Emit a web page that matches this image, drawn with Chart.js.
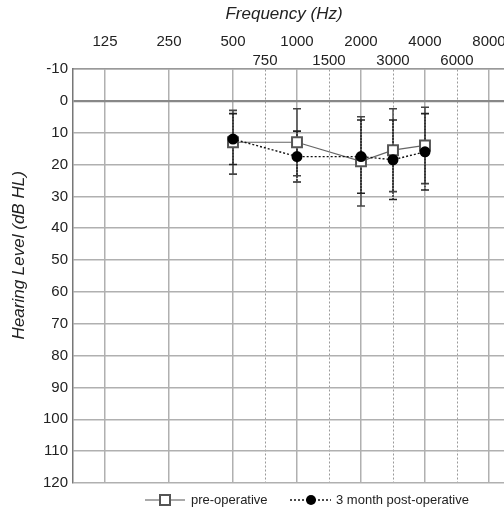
<!DOCTYPE html>
<html lang="en">
<head>
  <meta charset="UTF-8" />
  <title>Audiogram</title>
  <script src="https://cdn.jsdelivr.net/npm/chart.js"></script>
  <style>
    html, body { margin: 0; padding: 0; background: #fff; overflow: hidden; }
    #wrap { width: 504px; height: 509px; overflow: hidden; }
  </style>
</head>
<body>
  <div id="wrap">
    <canvas id="audiogram" width="530" height="509"></canvas>
  </div>

  <script>
    // Frequency ticks (Hz) and hearing level ticks (dB HL)
    const tickFreqs = [125, 250, 500, 750, 1000, 1500, 2000, 3000, 4000, 6000, 8000];
    const levelTicks = [-10, 0, 10, 20, 30, 40, 50, 60, 70, 80, 90, 100, 110, 120];

    // Mean thresholds with standard deviations
    const testFreqs = [500, 1000, 2000, 3000, 4000];
    const preOp = [13, 13, 19, 15.5, 14];
    const preOpSd = [10, 10.5, 14, 13, 12];
    const postOp = [12, 17.5, 17.5, 18.5, 16];
    const postOpSd = [8, 8, 11.5, 12.5, 12];

    const seriesNames = ['pre-operative', '3 month post-operative'];

    const FONT = '"Liberation Sans", Arial, Helvetica, sans-serif';

    // audiogram spacing: octaves are equal steps, inter-octave frequencies sit halfway
    function freqPos(f) {
      const oct = Math.log2(f / 125);
      return Number.isInteger(oct) ? oct : Math.floor(oct) + 0.5;
    }
    function isHalf(f) { return !Number.isInteger(Math.log2(f / 125)); }

    const toPoints = vals => testFreqs.map((f, i) => ({ x: freqPos(f), y: vals[i] }));

    // error bars, drawn underneath the markers
    const errorBars = {
      id: 'errorBars',
      beforeDatasetsDraw(chart) {
        const { ctx, scales: { x, y } } = chart;
        const sets = [
          { vals: preOp, sd: preOpSd, color: '#444', dash: [] },
          { vals: postOp, sd: postOpSd, color: '#222', dash: [2, 1] }
        ];
        ctx.save();
        sets.forEach(s => {
          testFreqs.forEach((f, i) => {
            const px = x.getPixelForValue(freqPos(f));
            const top = y.getPixelForValue(s.vals[i] - s.sd[i]);
            const bot = y.getPixelForValue(s.vals[i] + s.sd[i]);
            ctx.strokeStyle = s.color;
            ctx.lineWidth = 1.4;
            ctx.setLineDash(s.dash);
            ctx.beginPath();
            ctx.moveTo(px, top);
            ctx.lineTo(px, bot);
            ctx.stroke();
            ctx.setLineDash([]);
            ctx.lineWidth = 1.6;
            ctx.beginPath();
            ctx.moveTo(px - 4, top); ctx.lineTo(px + 4, top);
            ctx.moveTo(px - 4, bot); ctx.lineTo(px + 4, bot);
            ctx.stroke();
          });
        });
        ctx.restore();
      }
    };

    // axis titles and the bottom legend
    const decorations = {
      id: 'decorations',
      afterDraw(chart) {
        const { ctx, chartArea } = chart;
        ctx.save();
        ctx.fillStyle = '#222';
        ctx.font = 'italic 17px ' + FONT;
        ctx.textAlign = 'center';
        ctx.textBaseline = 'middle';
        ctx.fillText('Frequency (Hz)', 284, 14);

        ctx.translate(19, chartArea.top + 0.45 * (chartArea.bottom - chartArea.top));
        ctx.rotate(-Math.PI / 2);
        ctx.fillText('Hearing Level (dB HL)', 0, 0);
        ctx.restore();

        // legend
        const ly = 500;
        ctx.save();
        ctx.font = '13px ' + FONT;
        ctx.textBaseline = 'middle';
        ctx.fillStyle = '#222';

        ctx.strokeStyle = '#555';
        ctx.lineWidth = 1.2;
        ctx.beginPath(); ctx.moveTo(145, ly); ctx.lineTo(185, ly); ctx.stroke();
        ctx.fillStyle = '#fff';
        ctx.lineWidth = 2;
        ctx.fillRect(160, ly - 5, 10, 10);
        ctx.strokeRect(160, ly - 5, 10, 10);
        ctx.fillStyle = '#222';
        ctx.fillText(seriesNames[0], 191, ly);

        ctx.strokeStyle = '#111';
        ctx.lineWidth = 1.3;
        ctx.setLineDash([2, 2]);
        ctx.beginPath(); ctx.moveTo(290, ly); ctx.lineTo(331, ly); ctx.stroke();
        ctx.setLineDash([]);
        ctx.fillStyle = '#000';
        ctx.beginPath(); ctx.arc(311, ly, 5, 0, Math.PI * 2); ctx.fill();
        ctx.fillStyle = '#222';
        ctx.fillText(seriesNames[1], 336, ly);
        ctx.restore();
      }
    };

    new Chart(document.getElementById('audiogram'), {
      type: 'line',
      data: {
        datasets: [
          {
            label: seriesNames[0],
            data: toPoints(preOp),
            borderColor: '#666',
            borderWidth: 1.2,
            pointStyle: 'rect',
            pointRadius: 7,
            pointBorderWidth: 2,
            pointBorderColor: '#555',
            pointBackgroundColor: '#fff',
            order: 2
          },
          {
            label: seriesNames[1],
            data: toPoints(postOp),
            borderColor: '#111',
            borderWidth: 1.4,
            borderDash: [2, 2],
            pointStyle: 'circle',
            pointRadius: 5.5,
            pointBorderWidth: 0,
            pointBackgroundColor: '#000',
            order: 1
          }
        ]
      },
      options: {
        responsive: false,
        animation: false,
        layout: { padding: { top: 0, right: 9, bottom: 26, left: 0 } },
        plugins: {
          legend: { display: false },
          tooltip: { enabled: false }
        },
        scales: {
          x: {
            type: 'linear',
            position: 'top',
            min: -0.5,
            max: 6.5,
            afterBuildTicks: scale => {
              scale.ticks = tickFreqs.map(f => ({ value: freqPos(f) }));
            },
            afterFit: scale => { scale.height = 69; },
            ticks: {
              autoSkip: false,
              maxRotation: 0,
              padding: -1,
              color: '#222',
              font: { family: FONT, size: 15, lineHeight: 1.27 },
              callback: (v, i) => {
                const f = tickFreqs[i];
                return isHalf(f) ? ['', String(f)] : [String(f), ''];
              }
            },
            grid: {
              drawTicks: false,
              color: ctx => ctx.tick && isHalf(tickFreqs[ctx.index]) ? '#9a9a9a' : '#b0b0b0',
              lineWidth: ctx => ctx.tick && isHalf(tickFreqs[ctx.index]) ? 1 : 1.5
            },
            border: {
              display: true,
              color: '#999',
              width: 1.5,
              dash: ctx => ctx.tick && isHalf(tickFreqs[ctx.index]) ? [2, 2] : []
            }
          },
          y: {
            type: 'linear',
            reverse: true,
            min: levelTicks[0],
            max: levelTicks[levelTicks.length - 1],
            afterBuildTicks: scale => {
              scale.ticks = levelTicks.map(v => ({ value: v }));
            },
            afterFit: scale => { scale.width = 73; },
            ticks: {
              padding: 5,
              color: '#222',
              font: { family: FONT, size: 15 }
            },
            grid: {
              drawTicks: false,
              color: ctx => ctx.tick && ctx.tick.value === 0 ? '#888' : '#b0b0b0',
              lineWidth: ctx => ctx.tick && ctx.tick.value === 0 ? 2.2 : 1.5
            },
            border: { display: true, color: '#777', width: 1.5 }
          }
        }
      },
      plugins: [errorBars, decorations]
    });
  </script>
</body>
</html>
